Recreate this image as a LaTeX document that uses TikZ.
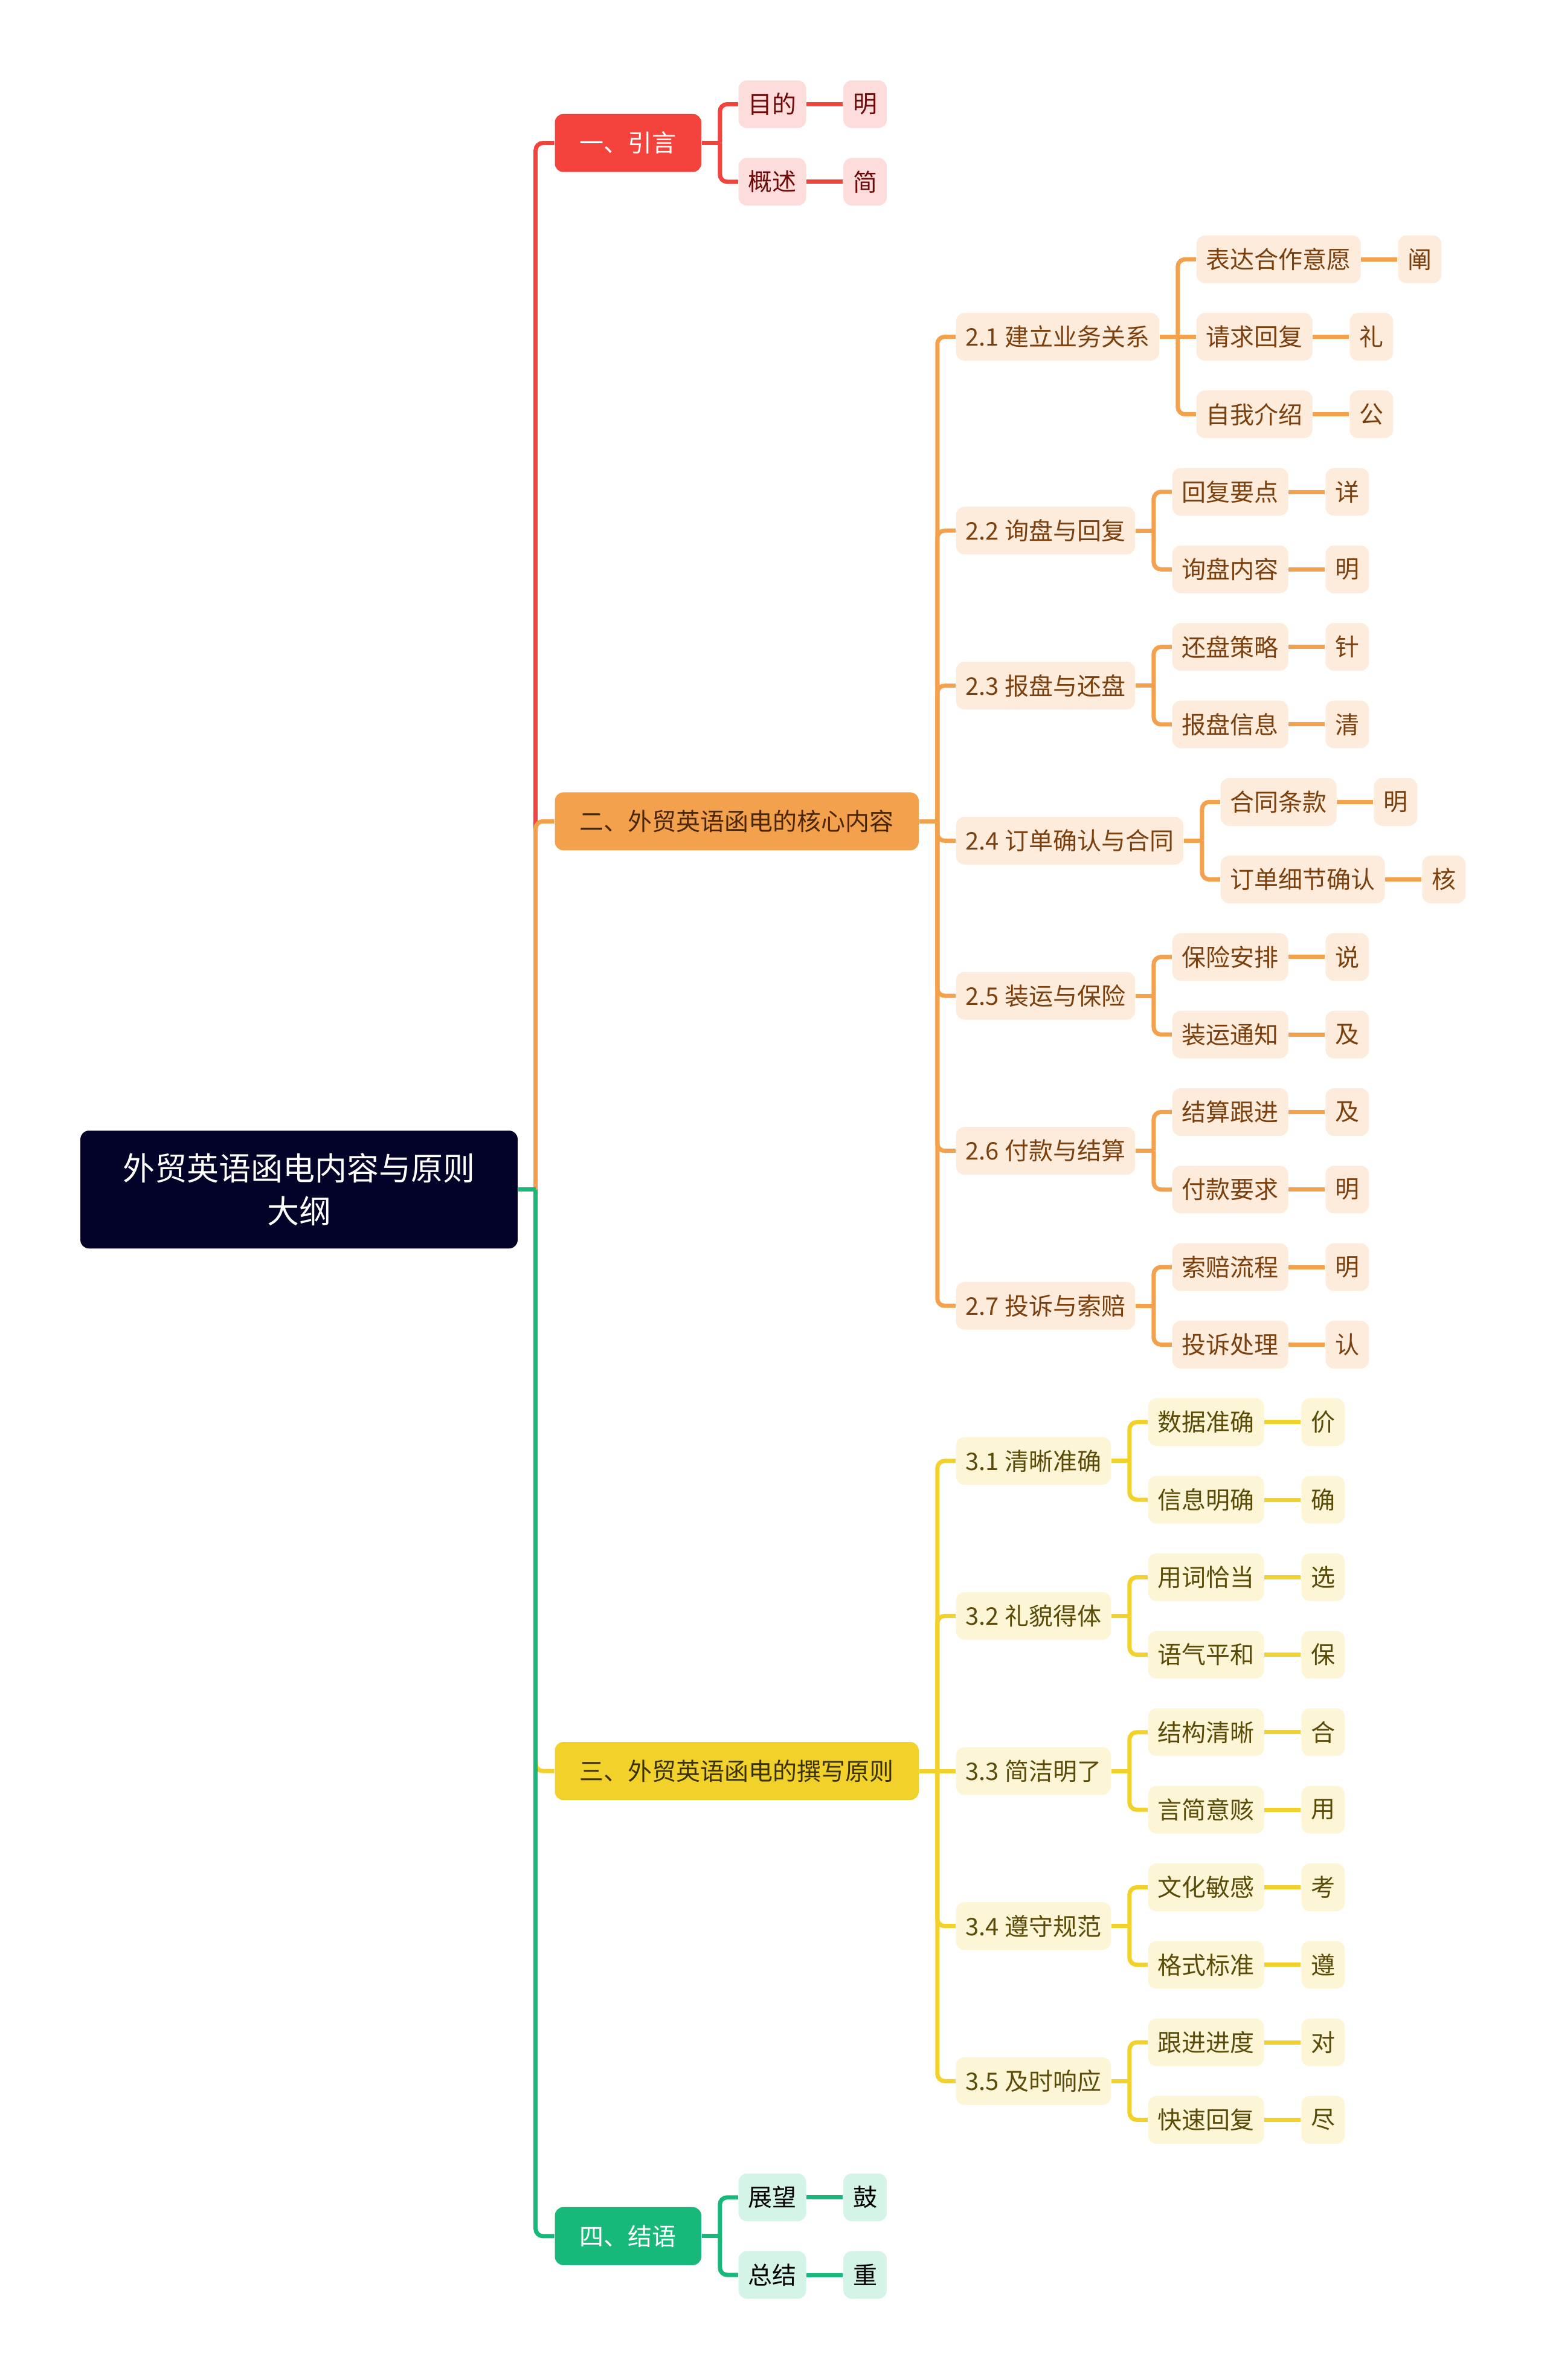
\documentclass[tikz,border=0pt]{standalone}
\usepackage{fontspec}
\setmainfont{Noto Sans CJK SC}
\usetikzlibrary{positioning,calc}
\definecolor{sotet}{HTML}{03032A}
\definecolor{piros}{HTML}{F4433C}  \definecolor{pirosv}{HTML}{FDDDDC}  \definecolor{pirost}{HTML}{6E0A0A}
\definecolor{narancs}{HTML}{F4A14E}\definecolor{narancsv}{HTML}{FDECDC}\definecolor{narancst}{HTML}{7B400D}
\definecolor{sarga}{HTML}{F2D12A}  \definecolor{sargav}{HTML}{FCF6D6}  \definecolor{sargat}{HTML}{5A4C08}
\definecolor{zold}{HTML}{17B879}   \definecolor{zoldv}{HTML}{D3F4E6}
\tikzset{
  gyoker/.style={fill=sotet,text=white,rounded corners=3.5pt,align=center,
                 font=\fontsize{13.25}{17.75}\selectfont,inner xsep=17.6pt,minimum height=48.75pt},
  fo/.style={rounded corners=3.5pt,font=\fontsize{10}{12}\selectfont,inner xsep=10.3pt,
             minimum height=24pt,anchor=west},
  al/.style={rounded corners=3.5pt,font=\fontsize{10}{12}\selectfont,inner xsep=4pt,
             minimum height=19.75pt,anchor=west},
  pal/.style={al,fill=pirosv,text=pirost},
  nal/.style={al,fill=narancsv,text=narancst},
  sal/.style={al,fill=sargav,text=sargat},
  zal/.style={al,fill=zoldv,text=black},
  vonal/.style={line width=1.75pt,draw=#1},
  kanyar/.style={vonal=#1,rounded corners=3pt},
}
\begin{document}
\begin{tikzpicture}[x=0.25pt,y=-32.075pt]
  \useasboundingbox (0,-1.3445) rectangle (2560,29.356);
  \node[gyoker] (root) at (495,14) {外贸英语函电内容与原则\\大纲};
  % fo agak
  \node[fo,fill=piros,text=white] (m1) at ($(root.east|-0,0.5)+(60,0)$) {一、引言};
  \node[fo,fill=narancs,text=narancst!60!black] (m2) at ($(root.east|-0,9.25)+(60,0)$) {二、外贸英语函电的核心内容};
  \node[fo,fill=sarga,text=sargat!65!black] (m3) at ($(root.east|-0,21.5)+(60,0)$) {三、外贸英语函电的撰写原则};
  \node[fo,fill=zold,text=white] (m4) at ($(root.east|-0,27.5)+(60,0)$) {四、结语};
  % egy
  \node[pal] (a11) at ($(m1.east|-0,0)+(60,0)$) {目的};
  \node[pal] (a12) at ($(m1.east|-0,1)+(60,0)$) {概述};
  \node[pal,right=15pt of a11] (a11v) {明};
  \node[pal,right=15pt of a12] (a12v) {简};
  % ketto
  \node[nal] (s21) at ($(m2.east|-0,3)+(60,0)$) {2.1 建立业务关系};
  \node[nal] (s22) at ($(m2.east|-0,5.5)+(60,0)$) {2.2 询盘与回复};
  \node[nal] (s23) at ($(m2.east|-0,7.5)+(60,0)$) {2.3 报盘与还盘};
  \node[nal] (s24) at ($(m2.east|-0,9.5)+(60,0)$) {2.4 订单确认与合同};
  \node[nal] (s25) at ($(m2.east|-0,11.5)+(60,0)$) {2.5 装运与保险};
  \node[nal] (s26) at ($(m2.east|-0,13.5)+(60,0)$) {2.6 付款与结算};
  \node[nal] (s27) at ($(m2.east|-0,15.5)+(60,0)$) {2.7 投诉与索赔};
  \node[nal] (c211) at ($(s21.east|-0,2)+(60,0)$) {表达合作意愿};
  \node[nal] (c212) at ($(s21.east|-0,3)+(60,0)$) {请求回复};
  \node[nal] (c213) at ($(s21.east|-0,4)+(60,0)$) {自我介绍};
  \node[nal] (c221) at ($(s22.east|-0,5)+(60,0)$) {回复要点};
  \node[nal] (c222) at ($(s22.east|-0,6)+(60,0)$) {询盘内容};
  \node[nal] (c231) at ($(s23.east|-0,7)+(60,0)$) {还盘策略};
  \node[nal] (c232) at ($(s23.east|-0,8)+(60,0)$) {报盘信息};
  \node[nal] (c241) at ($(s24.east|-0,9)+(60,0)$) {合同条款};
  \node[nal] (c242) at ($(s24.east|-0,10)+(60,0)$) {订单细节确认};
  \node[nal] (c251) at ($(s25.east|-0,11)+(60,0)$) {保险安排};
  \node[nal] (c252) at ($(s25.east|-0,12)+(60,0)$) {装运通知};
  \node[nal] (c261) at ($(s26.east|-0,13)+(60,0)$) {结算跟进};
  \node[nal] (c262) at ($(s26.east|-0,14)+(60,0)$) {付款要求};
  \node[nal] (c271) at ($(s27.east|-0,15)+(60,0)$) {索赔流程};
  \node[nal] (c272) at ($(s27.east|-0,16)+(60,0)$) {投诉处理};
  \node[nal,right=15pt of c211] (c211v) {阐};
  \node[nal,right=15pt of c212] (c212v) {礼};
  \node[nal,right=15pt of c213] (c213v) {公};
  \node[nal,right=15pt of c221] (c221v) {详};
  \node[nal,right=15pt of c222] (c222v) {明};
  \node[nal,right=15pt of c231] (c231v) {针};
  \node[nal,right=15pt of c232] (c232v) {清};
  \node[nal,right=15pt of c241] (c241v) {明};
  \node[nal,right=15pt of c242] (c242v) {核};
  \node[nal,right=15pt of c251] (c251v) {说};
  \node[nal,right=15pt of c252] (c252v) {及};
  \node[nal,right=15pt of c261] (c261v) {及};
  \node[nal,right=15pt of c262] (c262v) {明};
  \node[nal,right=15pt of c271] (c271v) {明};
  \node[nal,right=15pt of c272] (c272v) {认};
  % harom
  \node[sal] (s31) at ($(m3.east|-0,17.5)+(60,0)$) {3.1 清晰准确};
  \node[sal] (s32) at ($(m3.east|-0,19.5)+(60,0)$) {3.2 礼貌得体};
  \node[sal] (s33) at ($(m3.east|-0,21.5)+(60,0)$) {3.3 简洁明了};
  \node[sal] (s34) at ($(m3.east|-0,23.5)+(60,0)$) {3.4 遵守规范};
  \node[sal] (s35) at ($(m3.east|-0,25.5)+(60,0)$) {3.5 及时响应};
  \node[sal] (c311) at ($(s31.east|-0,17)+(60,0)$) {数据准确};
  \node[sal] (c312) at ($(s31.east|-0,18)+(60,0)$) {信息明确};
  \node[sal] (c321) at ($(s32.east|-0,19)+(60,0)$) {用词恰当};
  \node[sal] (c322) at ($(s32.east|-0,20)+(60,0)$) {语气平和};
  \node[sal] (c331) at ($(s33.east|-0,21)+(60,0)$) {结构清晰};
  \node[sal] (c332) at ($(s33.east|-0,22)+(60,0)$) {言简意赅};
  \node[sal] (c341) at ($(s34.east|-0,23)+(60,0)$) {文化敏感};
  \node[sal] (c342) at ($(s34.east|-0,24)+(60,0)$) {格式标准};
  \node[sal] (c351) at ($(s35.east|-0,25)+(60,0)$) {跟进进度};
  \node[sal] (c352) at ($(s35.east|-0,26)+(60,0)$) {快速回复};
  \node[sal,right=15pt of c311] (c311v) {价};
  \node[sal,right=15pt of c312] (c312v) {确};
  \node[sal,right=15pt of c321] (c321v) {选};
  \node[sal,right=15pt of c322] (c322v) {保};
  \node[sal,right=15pt of c331] (c331v) {合};
  \node[sal,right=15pt of c332] (c332v) {用};
  \node[sal,right=15pt of c341] (c341v) {考};
  \node[sal,right=15pt of c342] (c342v) {遵};
  \node[sal,right=15pt of c351] (c351v) {对};
  \node[sal,right=15pt of c352] (c352v) {尽};
  % negy
  \node[zal] (a41) at ($(m4.east|-0,27)+(60,0)$) {展望};
  \node[zal] (a42) at ($(m4.east|-0,28)+(60,0)$) {总结};
  \node[zal,right=15pt of a41] (a41v) {鼓};
  \node[zal,right=15pt of a42] (a42v) {重};

  % vonalak
  \coordinate (t0) at ($(root.east)+(29,0)$);
  \draw[kanyar=piros] (t0) |- (m1.west);
  \draw[kanyar=narancs] (t0) |- (m2.west);
  \draw[kanyar=sarga] (t0) |- (m3.west);
  \draw[kanyar=zold] (t0) |- (m4.west);
  \draw[vonal=zold] (root.east) -- (t0);

  \draw[vonal=piros] (m1.east) -- ++(30,0) coordinate (t1);
  \draw[kanyar=piros] (t1) |- (a11.west); \draw[kanyar=piros] (t1) |- (a12.west);
  \draw[vonal=piros] (a11) -- (a11v); \draw[vonal=piros] (a12) -- (a12v);

  \draw[vonal=narancs] (m2.east) -- ++(30,0) coordinate (t2);
  \foreach \s in {s21,s22,s23,s24,s25,s26,s27} \draw[kanyar=narancs] (t2) |- (\s.west);
  \draw[vonal=narancs] (s21.east) -- ++(30,0) coordinate (t21);
  \draw[kanyar=narancs] (t21) |- (c211.west); \draw[vonal=narancs] (t21) -- (c212.west);
  \draw[kanyar=narancs] (t21) |- (c213.west);
  \foreach \s in {2,3,4,5,6,7} {
    \draw[vonal=narancs] (s2\s.east) -- ++(30,0) coordinate (t2\s);
    \draw[kanyar=narancs] (t2\s) |- (c2\s1.west); \draw[kanyar=narancs] (t2\s) |- (c2\s2.west);
  }
  \foreach \c in {c211,c212,c213,c221,c222,c231,c232,c241,c242,c251,c252,c261,c262,c271,c272}
    \draw[vonal=narancs] (\c) -- (\c v);

  \draw[vonal=sarga] (m3.east) -- ++(30,0) coordinate (t3);
  \foreach \s in {s31,s32,s34,s35} \draw[kanyar=sarga] (t3) |- (\s.west);
  \draw[vonal=sarga] (t3) -- (s33.west);
  \foreach \s in {1,2,3,4,5} {
    \draw[vonal=sarga] (s3\s.east) -- ++(30,0) coordinate (t3\s);
    \draw[kanyar=sarga] (t3\s) |- (c3\s1.west); \draw[kanyar=sarga] (t3\s) |- (c3\s2.west);
  }
  \foreach \c in {c311,c312,c321,c322,c331,c332,c341,c342,c351,c352}
    \draw[vonal=sarga] (\c) -- (\c v);

  \draw[vonal=zold] (m4.east) -- ++(30,0) coordinate (t4);
  \draw[kanyar=zold] (t4) |- (a41.west); \draw[kanyar=zold] (t4) |- (a42.west);
  \draw[vonal=zold] (a41) -- (a41v); \draw[vonal=zold] (a42) -- (a42v);
\end{tikzpicture}
\end{document}
